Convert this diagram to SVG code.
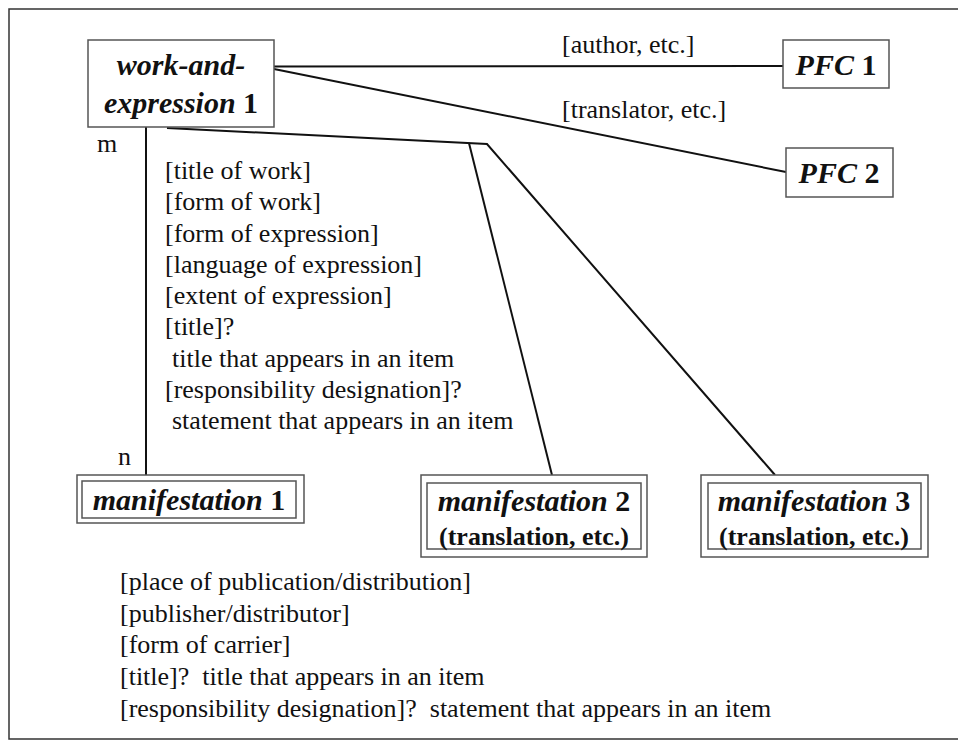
<svg xmlns="http://www.w3.org/2000/svg" width="958" height="741" viewBox="0 0 958 741">
<style>
.frame{fill:none;stroke:#333;stroke-width:1.5}
.box{fill:#fff;stroke:#555;stroke-width:1.5}
.conn{fill:none;stroke:#111;stroke-width:2}
.lbl{font-family:"Liberation Serif","Times New Roman",serif;font-size:26px;fill:#111}
.node{font-family:"Liberation Serif","Times New Roman",serif;font-size:30px;font-weight:bold;font-style:italic;fill:#111;text-anchor:middle}
.num{font-style:normal}
.sub{font-family:"Liberation Serif","Times New Roman",serif;font-size:26px;font-weight:bold;fill:#111;text-anchor:middle}
.pre{white-space:pre}
</style>
<path class="frame" d="M960,9 H9 V739 H960"/>
<g id="connectors">
<line class="conn" x1="274" y1="66.5" x2="783" y2="66"/>
<line class="conn" x1="274" y1="69" x2="786" y2="172"/>
<line class="conn" x1="146" y1="127" x2="146" y2="475"/>
<polyline class="conn" points="167,128 487,144 775,475"/>
<line class="conn" x1="469" y1="143" x2="552" y2="475"/>
<text class="lbl" x="562" y="53">[author, etc.]</text>
<text class="lbl" x="562" y="118">[translator, etc.]</text>
<text class="lbl" x="97" y="152">m</text>
<text class="lbl" x="118" y="465">n</text>
</g>
<g id="work-and-expression-1">
<rect class="box" x="88" y="40" width="186" height="87"/>
<text class="node" x="181" y="75">work-and-</text>
<text class="node" x="181" y="113">expression <tspan class="num">1</tspan></text>
</g>
<g id="pfc-1">
<rect class="box" x="783" y="40" width="106" height="48"/>
<text class="node" x="836" y="75">PFC <tspan class="num">1</tspan></text>
</g>
<g id="pfc-2">
<rect class="box" x="786" y="148" width="107" height="49"/>
<text class="node" x="839" y="183">PFC <tspan class="num">2</tspan></text>
</g>
<g id="manifestation-1">
<rect class="box" x="77" y="475" width="227" height="48"/>
<rect class="box" x="82" y="481" width="214" height="37"/>
<text class="node" x="189" y="510">manifestation <tspan class="num">1</tspan></text>
</g>
<g id="manifestation-2">
<rect class="box" x="421" y="475" width="226" height="82"/>
<rect class="box" x="427" y="483" width="214" height="66"/>
<text class="node" x="534" y="511">manifestation <tspan class="num">2</tspan></text>
<text class="sub" x="534" y="545">(translation, etc.)</text>
</g>
<g id="manifestation-3">
<rect class="box" x="701" y="475" width="227" height="82"/>
<rect class="box" x="708" y="483" width="213" height="66"/>
<text class="node" x="814" y="511">manifestation <tspan class="num">3</tspan></text>
<text class="sub" x="814" y="545">(translation, etc.)</text>
</g>
<g id="work-attributes">
<text class="lbl" x="165" y="179">[title of work]</text>
<text class="lbl" x="165" y="210">[form of work]</text>
<text class="lbl" x="165" y="242">[form of expression]</text>
<text class="lbl" x="165" y="273">[language of expression]</text>
<text class="lbl" x="165" y="304">[extent of expression]</text>
<text class="lbl" x="165" y="335">[title]?</text>
<text class="lbl" x="172" y="367">title that appears in an item</text>
<text class="lbl" x="165" y="398">[responsibility designation]?</text>
<text class="lbl" x="172" y="429">statement that appears in an item</text>
</g>
<g id="manifestation-attributes">
<text class="lbl" x="120" y="590">[place of publication/distribution]</text>
<text class="lbl" x="120" y="622">[publisher/distributor]</text>
<text class="lbl" x="120" y="653">[form of carrier]</text>
<text class="lbl pre" x="120" y="685">[title]?  title that appears in an item</text>
<text class="lbl pre" x="120" y="717">[responsibility designation]?  statement that appears in an item</text>
</g>
</svg>
